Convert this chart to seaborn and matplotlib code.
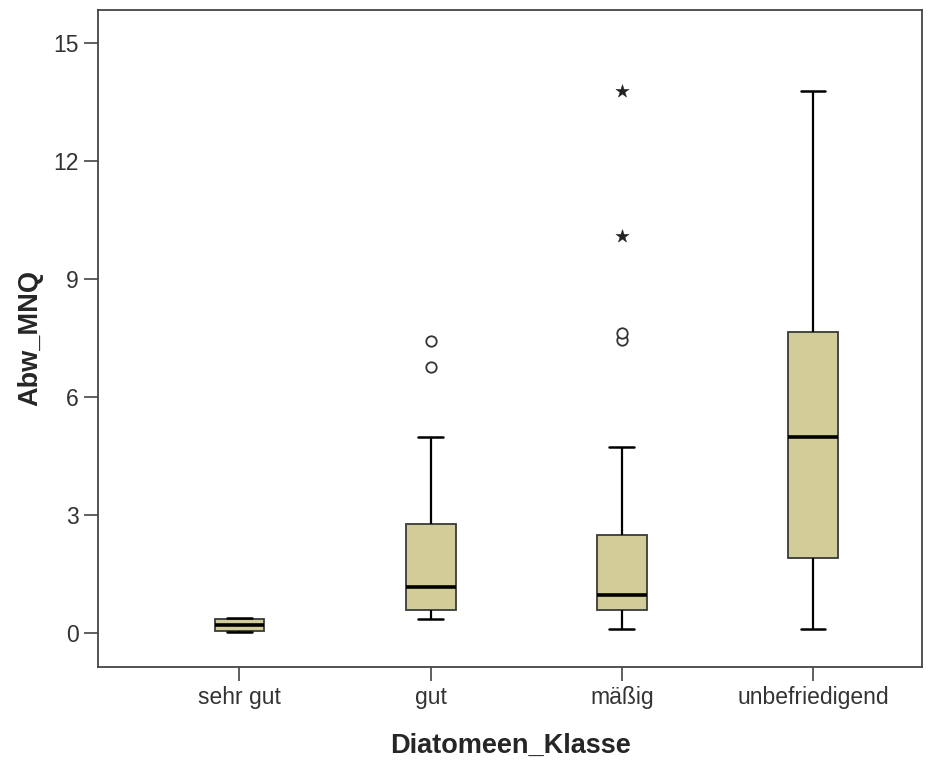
import matplotlib
matplotlib.use("Agg")
import matplotlib.pyplot as plt
import seaborn as sns
import pandas as pd

# Categories and five-number summaries (whisker low, Q1, median, Q3, whisker high)
categories = ["sehr gut", "gut", "mäßig", "unbefriedigend"]
whisker_low = [0.03, 0.36, 0.10, 0.10]
q1 = [0.06, 0.58, 0.58, 1.90]
median = [0.20, 1.17, 0.97, 4.98]
q3 = [0.36, 2.77, 2.49, 7.65]
whisker_high = [0.38, 4.98, 4.73, 13.78]

# Outliers (circles) and extreme values (stars)
outlier_class = ["gut", "gut", "mäßig", "mäßig"]
outlier_value = [6.76, 7.42, 7.45, 7.63]
extreme_class = ["mäßig", "mäßig"]
extreme_value = [10.09, 13.78]

yticks = [0, 3, 6, 9, 12, 15]

box_rows = []
for i, cat in enumerate(categories):
    for v in (whisker_low[i], q1[i], median[i], q3[i], whisker_high[i]):
        box_rows.append({"Diatomeen_Klasse": cat, "Abw_MNQ": v})
box_df = pd.DataFrame(box_rows)
out_df = pd.DataFrame({"Diatomeen_Klasse": outlier_class, "Abw_MNQ": outlier_value})
ext_df = pd.DataFrame({"Diatomeen_Klasse": extreme_class, "Abw_MNQ": extreme_value})

sns.set_style("white")
plt.rcParams["font.family"] = ["Liberation Sans", "DejaVu Sans"]

fig = plt.figure(figsize=(9.35, 7.62), dpi=100)
ax = fig.add_axes([98 / 935, 1 - 667 / 762, (922 - 98) / 935, (667 - 10) / 762])

edge = "#3a3a3a"
sns.boxplot(
    data=box_df, x="Diatomeen_Klasse", y="Abw_MNQ", order=categories,
    whis=(0, 100), showfliers=False, width=0.26,
    color="#D2CD98", saturation=1, linecolor=edge, linewidth=1.3,
    medianprops={"color": "black", "linewidth": 2.6},
    whiskerprops={"color": "black", "linewidth": 1.6},
    capprops={"color": "black", "linewidth": 1.8},
    ax=ax,
)
sns.stripplot(
    data=out_df, x="Diatomeen_Klasse", y="Abw_MNQ", order=categories,
    jitter=False, marker="o", size=7.5, color="white",
    edgecolor="#333333", linewidth=1.3, ax=ax,
)
sns.stripplot(
    data=ext_df, x="Diatomeen_Klasse", y="Abw_MNQ", order=categories,
    jitter=False, marker="*", size=10, color="#222222",
    edgecolor="#222222", linewidth=0.3, ax=ax,
)

ax.set_xlim(-0.74, 3.57)
ax.set_ylim(-0.86, 15.84)
ax.set_yticks(yticks)
ax.set_yticklabels([str(t) for t in yticks])

for side in ("left", "right", "top", "bottom"):
    ax.spines[side].set_visible(True)
    ax.spines[side].set_color("#444444")
    ax.spines[side].set_linewidth(1.3)

ax.tick_params(axis="both", which="major", direction="out", length=10,
               width=1.2, color="#444444", labelsize=16.5,
               labelcolor="#333333", left=True, bottom=True, pad=4)
ax.set_xlabel("Diatomeen_Klasse", fontsize=19.5, fontweight="bold", labelpad=17)
ax.set_ylabel("Abw_MNQ", fontsize=19.5, fontweight="bold", labelpad=7)

fig.savefig("out.png", dpi=100)
